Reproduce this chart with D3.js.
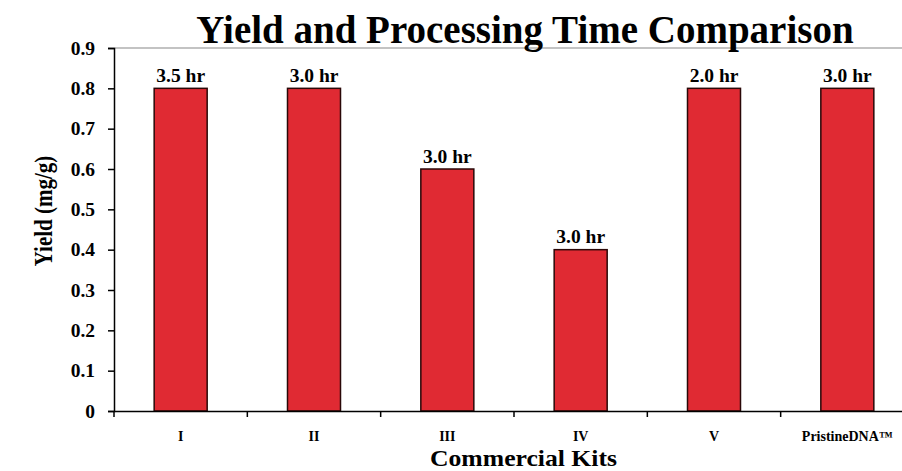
<!DOCTYPE html>
<html><head><meta charset="utf-8">
<script src="https://cdn.jsdelivr.net/npm/d3@7"></script>
<style>body{margin:0;background:#fff}svg{display:block}text{font-family:"Liberation Serif","Times New Roman",serif;font-weight:bold}</style>
</head><body>
<svg id="c" width="902" height="471"></svg>
<script>
const categories = ["I","II","III","IV","V","PristineDNA™"];
const yieldValues = [0.8,0.8,0.6,0.4,0.8,0.8];
const timeLabels = ["3.5 hr","3.0 hr","3.0 hr","3.0 hr","2.0 hr","3.0 hr"];
const yTicks = [0,0.1,0.2,0.3,0.4,0.5,0.6,0.7,0.8,0.9];

(function(){
const svg = d3.select("#c");
const pL=114, pR=914, pT=48, pB=411;
const xb = d3.scaleBand().domain(categories).range([pL,pR]);
const y = d3.scaleLinear().domain([0,0.9]).range([pB,pT]);

svg.append("line").attr("x1",pL).attr("x2",902).attr("y1",y(0.9)).attr("y2",y(0.9)).attr("stroke","#888").attr("stroke-width",1.2);

svg.selectAll("rect.bar").data(categories).join("rect")
 .attr("x",d=>xb(d)+xb.bandwidth()/2-26.5).attr("width",53)
 .attr("y",(d,i)=>y(yieldValues[i])).attr("height",(d,i)=>y(0)-y(yieldValues[i]))
 .attr("fill","#E02A33").attr("stroke","#2a0808").attr("stroke-width",1.5);

svg.selectAll("text.val").data(categories).join("text")
 .attr("x",d=>xb(d)+xb.bandwidth()/2).attr("y",(d,i)=>y(yieldValues[i])-6.5)
 .attr("text-anchor","middle").attr("font-size",19.5).text((d,i)=>timeLabels[i]);

const ya = svg.append("g").attr("transform",`translate(${pL},0)`)
 .call(d3.axisLeft(y).tickValues(yTicks).tickSize(6).tickPadding(13).tickFormat(d=>d===0?"0":d3.format(".1f")(d)));
ya.select(".domain").attr("stroke","#000").attr("stroke-width",1.5);
ya.selectAll(".tick line").attr("stroke","#000").attr("stroke-width",1.5);
ya.selectAll(".tick text").attr("font-size",19.5).attr("fill","#000").attr("font-family","Liberation Serif").attr("font-weight","bold");

const xa = svg.append("g").attr("transform",`translate(0,${pB})`)
 .call(d3.axisBottom(xb).tickSize(0).tickPadding(20));
xa.select(".domain").attr("stroke","#000").attr("stroke-width",1.5);
xa.selectAll(".tick text").attr("font-size",14).attr("fill","#000").attr("font-family","Liberation Serif").attr("font-weight","bold").attr("dy",null).attr("y",30);
const bounds = categories.map(c=>xb(c)).concat([pR]);
xa.selectAll("line.bt").data(bounds).join("line").attr("class","bt")
 .attr("x1",d=>d).attr("x2",d=>d).attr("y1",0).attr("y2",6).attr("stroke","#000").attr("stroke-width",1.5);

svg.append("text").attr("x",525).attr("y",43).attr("text-anchor","middle").attr("font-size",39).text("Yield and Processing Time Comparison");
svg.append("text").attr("transform","translate(52,211) rotate(-90) scale(1,1.2)").attr("text-anchor","middle").attr("font-size",21).text("Yield (mg/g)");
svg.append("text").attr("x",430).attr("y",466).attr("font-size",23).attr("textLength",187).attr("lengthAdjust","spacingAndGlyphs").text("Commercial Kits");
})();
</script>
</body></html>
